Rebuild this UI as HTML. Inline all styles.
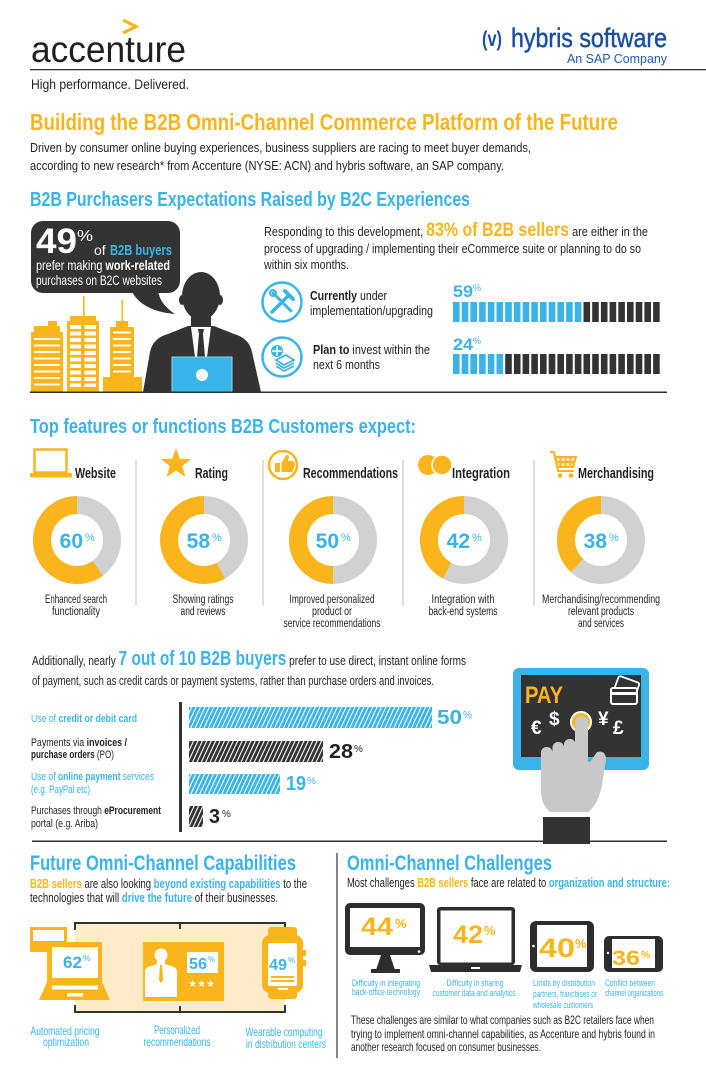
<!DOCTYPE html>
<html><head><meta charset="utf-8">
<style>
html,body{margin:0;padding:0;background:#fff;}
svg{display:block;}
text{font-family:"Liberation Sans Narrow","Liberation Sans",sans-serif;fill:#231f20;}
.b{font-weight:bold;}
.bl{fill:#3ab4e8;}
.or{fill:#f9b51b;}
.wh{fill:#fff;}
</style></head><body>
<svg width="706" height="1069" viewBox="0 0 706 1069" xmlns="http://www.w3.org/2000/svg">
<defs>
<pattern id="hb" width="4" height="4" patternUnits="userSpaceOnUse" patternTransform="rotate(25)"><rect width="4" height="4" fill="#3ab4e8"/><rect width="1.1" height="4" fill="#fff"/></pattern>
<pattern id="hd" width="4" height="4" patternUnits="userSpaceOnUse" patternTransform="rotate(25)"><rect width="4" height="4" fill="#333"/><rect width="1.1" height="4" fill="#fff"/></pattern>
<pattern id="st" width="700" height="6.5" patternUnits="userSpaceOnUse"><rect width="700" height="2" fill="#fff"/></pattern>
<pattern id="win" width="700" height="6.5" patternUnits="userSpaceOnUse"><rect y="0" width="700" height="4" fill="#fff"/></pattern>
</defs>

<!-- HEADER -->
<path d="M123,20 L136,26.5 L123,33" fill="none" stroke="#f9b51b" stroke-width="3.2"/>
<text x="31" y="62" font-size="37" textLength="155" lengthAdjust="spacingAndGlyphs">accenture</text>
<rect x="30" y="69" width="676" height="1.3" fill="#333"/>
<text x="31" y="89" font-size="14" textLength="158" lengthAdjust="spacingAndGlyphs">High performance. Delivered.</text>
<text x="482" y="46" font-size="21" class="b" style="fill:#1c4f9e" textLength="20" lengthAdjust="spacingAndGlyphs">(v)</text>
<text x="511" y="47" font-size="27" style="fill:#1c4f9e;stroke:#1c4f9e;stroke-width:0.5" textLength="156" lengthAdjust="spacingAndGlyphs">hybris software</text>
<text x="567" y="63" font-size="13" style="fill:#1e5bb0" textLength="100" lengthAdjust="spacingAndGlyphs">An SAP Company</text>

<text x="30" y="130" font-size="23" class="b or" textLength="588" lengthAdjust="spacingAndGlyphs">Building the B2B Omni-Channel Commerce Platform of the Future</text>
<text x="30" y="152" font-size="13" textLength="501" lengthAdjust="spacingAndGlyphs">Driven by consumer online buying experiences, business suppliers are racing to meet buyer demands,</text>
<text x="30" y="170" font-size="13" textLength="474" lengthAdjust="spacingAndGlyphs">according to new research* from Accenture (NYSE: ACN) and hybris software, an SAP company.</text>

<text x="30" y="206" font-size="20" class="b bl" textLength="440" lengthAdjust="spacingAndGlyphs">B2B Purchasers Expectations Raised by B2C Experiences</text>

<!-- speech bubble -->
<rect x="31" y="221" width="149" height="72" rx="12" fill="#333"/>
<path d="M131,290 C138,304 152,312 175,314 C163,306 159,298 158,290 Z" fill="#333"/>
<text x="36" y="253" font-size="35" class="b wh" textLength="41" lengthAdjust="spacingAndGlyphs">49</text>
<text x="77" y="241" font-size="16" class="wh" textLength="16" lengthAdjust="spacingAndGlyphs">%</text>
<text x="94" y="255" font-size="14" class="wh">of</text>
<text x="110" y="255" font-size="15" class="b bl" textLength="62" lengthAdjust="spacingAndGlyphs">B2B buyers</text>
<text x="36" y="270" font-size="14" class="wh" textLength="134" lengthAdjust="spacingAndGlyphs">prefer making <tspan class="b wh">work-related</tspan></text>
<text x="36" y="285" font-size="14" class="wh" textLength="126" lengthAdjust="spacingAndGlyphs">purchases on B2C websites</text>

<!-- buildings -->
<g fill="#f9b51b">
<rect x="48" y="321" width="9" height="6"/>
<rect x="34" y="326" width="26" height="6"/>
<rect x="31" y="332" width="32" height="60"/>
<rect x="83" y="296" width="1.6" height="20"/>
<rect x="70" y="316" width="26" height="5"/>
<rect x="67" y="321" width="32" height="71"/>
<rect x="121.5" y="300" width="1.6" height="21"/>
<rect x="116" y="321" width="12" height="6"/>
<rect x="110" y="327" width="24" height="50"/>
<rect x="103" y="377" width="39" height="15"/>
</g>
<rect x="34" y="335" width="26" height="52" fill="url(#st)"/>
<rect x="70" y="325" width="26" height="62" fill="url(#win)"/>
<rect x="81" y="324" width="3.5" height="64" fill="#f9b51b"/>
<rect x="113" y="331" width="18" height="44" fill="url(#st)"/>

<!-- person -->
<g fill="#333">
<ellipse cx="201" cy="296" rx="19" ry="24"/>
<ellipse cx="182" cy="300" rx="3" ry="5"/>
<ellipse cx="220" cy="300" rx="3" ry="5"/>
<rect x="191" y="305" width="20" height="24"/>
<path d="M143,392 L150,352 Q153,338 168,334 L188,326 L214,326 L234,334 Q249,338 252,352 L261,392 Z"/>
</g>
<polygon points="191,327 211,327 207,357 195,357" fill="#fff"/>
<polygon points="198,329 204,329 203,334 199,334" fill="#333"/>
<polygon points="199,334 203,334 205,357 197,357" fill="#333"/>
<rect x="172" y="357" width="60" height="35" fill="#3ab4e8" stroke="#8fd4f2" stroke-width="1"/>
<circle cx="202" cy="375" r="6" fill="#fff"/>
<rect x="30" y="391.5" width="637" height="1.5" fill="#333"/>

<!-- right text -->
<text x="264" y="236" font-size="13" textLength="384" lengthAdjust="spacingAndGlyphs">Responding to this development, <tspan class="b or" font-size="19">83% of B2B sellers</tspan> are either in the</text>
<text x="264" y="253" font-size="13" textLength="377" lengthAdjust="spacingAndGlyphs">process of upgrading / implementing their eCommerce suite or planning to do so</text>
<text x="264" y="269" font-size="13" textLength="85" lengthAdjust="spacingAndGlyphs">within six months.</text>

<!-- icons -->
<circle cx="282" cy="302" r="19.5" fill="none" stroke="#3ab4e8" stroke-width="2.5"/>
<g stroke="#3ab4e8" stroke-linecap="round">
<line x1="272" y1="312" x2="289" y2="295" stroke-width="3.5"/>
<line x1="285" y1="291" x2="293" y2="299" stroke-width="4"/>
<line x1="273" y1="293" x2="291" y2="311" stroke-width="3"/>
</g>
<circle cx="273" cy="293" r="3" fill="none" stroke="#3ab4e8" stroke-width="2"/>
<circle cx="282" cy="357" r="19.5" fill="none" stroke="#3ab4e8" stroke-width="2.5"/>
<circle cx="277" cy="351" r="6" fill="#3ab4e8"/>
<path d="M277,346 V356 M272,351 H282" stroke="#fff" stroke-width="1.5"/>
<g fill="none" stroke="#3ab4e8" stroke-width="1.8">
<path d="M276,360 L286,355 L294,360 L284,365 Z"/>
<path d="M276,363 L284,368 L294,363"/>
<path d="M276,366 L284,371 L294,366"/>
</g>
<text x="310" y="300" font-size="13" textLength="77" lengthAdjust="spacingAndGlyphs"><tspan class="b">Currently</tspan> under</text>
<text x="310" y="315" font-size="13" textLength="123" lengthAdjust="spacingAndGlyphs">implementation/upgrading</text>
<text x="313" y="354" font-size="13" textLength="117" lengthAdjust="spacingAndGlyphs"><tspan class="b">Plan to</tspan> invest within the</text>
<text x="313" y="369" font-size="13" textLength="67" lengthAdjust="spacingAndGlyphs">next 6 months</text>

<!-- segment bars -->
<text x="453" y="297" font-size="17" class="b bl" textLength="20" lengthAdjust="spacingAndGlyphs">59</text>
<text x="473" y="291" font-size="9" class="bl">%</text>
<text x="453" y="350" font-size="17" class="b bl" textLength="20" lengthAdjust="spacingAndGlyphs">24</text>
<text x="473" y="344" font-size="9" class="bl">%</text>
<g fill="#3ab4e8">
<rect x="453" y="302" width="6.6" height="20"/><rect x="461.7" y="302" width="6.6" height="20"/><rect x="470.4" y="302" width="6.6" height="20"/><rect x="479.1" y="302" width="6.6" height="20"/><rect x="487.8" y="302" width="6.6" height="20"/><rect x="496.5" y="302" width="6.6" height="20"/><rect x="505.2" y="302" width="6.6" height="20"/><rect x="513.9" y="302" width="6.6" height="20"/><rect x="522.6" y="302" width="6.6" height="20"/><rect x="531.3" y="302" width="6.6" height="20"/><rect x="540" y="302" width="6.6" height="20"/><rect x="548.7" y="302" width="6.6" height="20"/><rect x="557.4" y="302" width="6.6" height="20"/><rect x="566.1" y="302" width="6.6" height="20"/><rect x="574.8" y="302" width="6.6" height="20"/>
<rect x="453" y="354" width="6.6" height="20"/><rect x="461.7" y="354" width="6.6" height="20"/><rect x="470.4" y="354" width="6.6" height="20"/><rect x="479.1" y="354" width="6.6" height="20"/><rect x="487.8" y="354" width="6.6" height="20"/><rect x="496.5" y="354" width="6.6" height="20"/>
</g>
<g fill="#333">
<rect x="583.5" y="302" width="6.6" height="20"/><rect x="592.2" y="302" width="6.6" height="20"/><rect x="600.9" y="302" width="6.6" height="20"/><rect x="609.6" y="302" width="6.6" height="20"/><rect x="618.3" y="302" width="6.6" height="20"/><rect x="627" y="302" width="6.6" height="20"/><rect x="635.7" y="302" width="6.6" height="20"/><rect x="644.4" y="302" width="6.6" height="20"/><rect x="653.1" y="302" width="6.6" height="20"/>
<rect x="505.2" y="354" width="6.6" height="20"/><rect x="513.9" y="354" width="6.6" height="20"/><rect x="522.6" y="354" width="6.6" height="20"/><rect x="531.3" y="354" width="6.6" height="20"/><rect x="540" y="354" width="6.6" height="20"/><rect x="548.7" y="354" width="6.6" height="20"/><rect x="557.4" y="354" width="6.6" height="20"/><rect x="566.1" y="354" width="6.6" height="20"/><rect x="574.8" y="354" width="6.6" height="20"/><rect x="583.5" y="354" width="6.6" height="20"/><rect x="592.2" y="354" width="6.6" height="20"/><rect x="600.9" y="354" width="6.6" height="20"/><rect x="609.6" y="354" width="6.6" height="20"/><rect x="618.3" y="354" width="6.6" height="20"/><rect x="627" y="354" width="6.6" height="20"/><rect x="635.7" y="354" width="6.6" height="20"/><rect x="644.4" y="354" width="6.6" height="20"/><rect x="653.1" y="354" width="6.6" height="20"/>
</g>

<!-- TOP FEATURES -->
<text x="30" y="433" font-size="20" class="b bl" textLength="386" lengthAdjust="spacingAndGlyphs">Top features or functions B2B Customers expect:</text>

<!-- icons -->
<rect x="34.5" y="449.5" width="32" height="23" fill="none" stroke="#f9b51b" stroke-width="2.5"/>
<rect x="30" y="473" width="42" height="4.5" rx="1" fill="#f9b51b"/>
<text x="75" y="478" font-size="14.5" class="b" textLength="41" lengthAdjust="spacingAndGlyphs">Website</text>

<polygon points="176,448 179.8,458.7 191.2,459.1 182.2,466 185.4,476.9 176,470.5 166.6,476.9 169.8,466 160.8,459.1 172.2,458.7" fill="#f9b51b"/>
<text x="195" y="478" font-size="14.5" class="b" textLength="33" lengthAdjust="spacingAndGlyphs">Rating</text>

<circle cx="283" cy="465" r="14" fill="none" stroke="#f9b51b" stroke-width="2.5"/>
<rect x="275" y="463" width="5" height="9" fill="#f9b51b"/>
<path d="M281.5,472 L281.5,463 L285.5,456 Q288,453 289,457 L288,461 L293,461 Q295.5,462 294.5,466 L292.5,472 Z" fill="#f9b51b"/>
<text x="303" y="478" font-size="14.5" class="b" textLength="95" lengthAdjust="spacingAndGlyphs">Recommendations</text>

<circle cx="428" cy="465" r="10" fill="#f9b51b"/>
<circle cx="442" cy="465" r="10" fill="#f9b51b" stroke="#fff" stroke-width="1.5"/>
<text x="452" y="478" font-size="14.5" class="b" textLength="58" lengthAdjust="spacingAndGlyphs">Integration</text>

<g fill="none" stroke="#f9b51b" stroke-width="2">
<path d="M550,452 H554 L558,471 H574"/>
<path d="M555.5,457 H576 L573,467 H557.5 Z" fill="#f9b51b" fill-opacity="0.25"/>
<path d="M560.5,457 V467 M565.5,457 V467 M570.5,457 V467 M556.5,462 H574.5"/>
</g>
<circle cx="560" cy="475.5" r="2.3" fill="#f9b51b"/>
<circle cx="571" cy="475.5" r="2.3" fill="#f9b51b"/>
<text x="578" y="478" font-size="14.5" class="b" textLength="76" lengthAdjust="spacingAndGlyphs">Merchandising</text>

<!-- dividers -->
<g stroke="#c8c8c8" stroke-width="1.2">
<line x1="136" y1="460" x2="136" y2="606"/>
<line x1="263" y1="460" x2="263" y2="606"/>
<line x1="403" y1="460" x2="403" y2="606"/>
<line x1="534" y1="460" x2="534" y2="606"/>
</g>

<!-- donuts -->
<g fill="none" stroke-width="18">
<circle cx="77" cy="540" r="35" stroke="#d1d1d1"/>
<path d="M77,505 A35,35 0 1 0 97.6,568.3" stroke="#f9b51b"/>
<circle cx="204" cy="540" r="35" stroke="#d1d1d1"/>
<path d="M204,505 A35,35 0 1 0 220.9,570.7" stroke="#f9b51b"/>
<circle cx="333" cy="540" r="35" stroke="#d1d1d1"/>
<path d="M333,505 A35,35 0 1 0 333,575" stroke="#f9b51b"/>
<circle cx="464" cy="540" r="35" stroke="#d1d1d1"/>
<path d="M464,505 A35,35 0 0 0 447.1,570.7" stroke="#f9b51b"/>
<circle cx="601" cy="540" r="35" stroke="#d1d1d1"/>
<path d="M601,505 A35,35 0 0 0 577,565.5" stroke="#f9b51b"/>
</g>
<g font-size="21" class="b bl">
<text x="83" y="548" text-anchor="end" class="b bl">60</text>
<text x="210" y="548" text-anchor="end" class="b bl">58</text>
<text x="339" y="548" text-anchor="end" class="b bl">50</text>
<text x="470" y="548" text-anchor="end" class="b bl">42</text>
<text x="607" y="548" text-anchor="end" class="b bl">38</text>
</g>
<g font-size="11">
<text x="85" y="541" class="bl">%</text>
<text x="212" y="541" class="bl">%</text>
<text x="341" y="541" class="bl">%</text>
<text x="472" y="541" class="bl">%</text>
<text x="609" y="541" class="bl">%</text>
</g>
<g font-size="11.5" text-anchor="middle">
<text x="76" y="603" textLength="62" lengthAdjust="spacingAndGlyphs">Enhanced search</text>
<text x="76" y="615" textLength="48" lengthAdjust="spacingAndGlyphs">functionality</text>
<text x="203" y="603" textLength="61" lengthAdjust="spacingAndGlyphs">Showing ratings</text>
<text x="203" y="615" textLength="45" lengthAdjust="spacingAndGlyphs">and reviews</text>
<text x="332" y="603" textLength="85" lengthAdjust="spacingAndGlyphs">Improved personalized</text>
<text x="332" y="615" textLength="40" lengthAdjust="spacingAndGlyphs">product or</text>
<text x="332" y="627" textLength="97" lengthAdjust="spacingAndGlyphs">service recommendations</text>
<text x="463" y="603" textLength="63" lengthAdjust="spacingAndGlyphs">Integration with</text>
<text x="463" y="615" textLength="69" lengthAdjust="spacingAndGlyphs">back-end systems</text>
<text x="601" y="603" textLength="118" lengthAdjust="spacingAndGlyphs">Merchandising/recommending</text>
<text x="601" y="615" textLength="66" lengthAdjust="spacingAndGlyphs">relevant products</text>
<text x="601" y="627" textLength="46" lengthAdjust="spacingAndGlyphs">and services</text>
</g>

<!-- PAYMENT -->
<text x="32" y="665" font-size="13" textLength="434" lengthAdjust="spacingAndGlyphs">Additionally, nearly <tspan class="b bl" font-size="20">7 out of 10 B2B buyers</tspan> prefer to use direct, instant online forms</text>
<text x="32" y="685" font-size="13" textLength="402" lengthAdjust="spacingAndGlyphs">of payment, such as credit cards or payment systems, rather than purchase orders and invoices.</text>

<rect x="179" y="702" width="3" height="130" fill="#333"/>
<rect x="189" y="707" width="243" height="21" fill="url(#hb)"/>
<rect x="189" y="741" width="134" height="21" fill="url(#hd)"/>
<rect x="189" y="774" width="91" height="20" fill="url(#hb)"/>
<rect x="189" y="806" width="14" height="21" fill="url(#hd)"/>

<text x="437" y="724" font-size="20" class="b bl" textLength="25" lengthAdjust="spacingAndGlyphs">50</text>
<text x="463" y="718" font-size="10" class="bl">%</text>
<text x="329" y="758" font-size="20" class="b" textLength="24" lengthAdjust="spacingAndGlyphs">28</text>
<text x="354" y="752" font-size="10">%</text>
<text x="286" y="790" font-size="20" class="b bl" textLength="20" lengthAdjust="spacingAndGlyphs">19</text>
<text x="307" y="784" font-size="10" class="bl">%</text>
<text x="209" y="823" font-size="20" class="b" textLength="11" lengthAdjust="spacingAndGlyphs">3</text>
<text x="222" y="817" font-size="10">%</text>

<g font-size="11">
<text x="31" y="722" class="bl" textLength="106" lengthAdjust="spacingAndGlyphs">Use of <tspan class="b bl">credit or debit card</tspan></text>
<text x="31" y="746" textLength="96" lengthAdjust="spacingAndGlyphs">Payments via <tspan class="b">invoices /</tspan></text>
<text x="31" y="758" textLength="83" lengthAdjust="spacingAndGlyphs"><tspan class="b">purchase orders</tspan> (PO)</text>
<text x="31" y="780" class="bl" textLength="123" lengthAdjust="spacingAndGlyphs">Use of <tspan class="b bl">online payment</tspan> services</text>
<text x="31" y="793" class="bl" textLength="59" lengthAdjust="spacingAndGlyphs">(e.g. PayPal etc)</text>
<text x="31" y="814" textLength="130" lengthAdjust="spacingAndGlyphs">Purchases through <tspan class="b">eProcurement</tspan></text>
<text x="31" y="827" textLength="67" lengthAdjust="spacingAndGlyphs">portal  (e.g. Ariba)</text>
</g>

<!-- PAY tablet -->
<rect x="513" y="668" width="136" height="102" rx="6" fill="#3ab4e8"/>
<rect x="521" y="675" width="120" height="82" fill="#333"/>
<text x="525" y="703" font-size="24" class="b or" textLength="38" lengthAdjust="spacingAndGlyphs">PAY</text>
<rect x="616" y="679" width="22" height="14" rx="2" fill="none" stroke="#fff" stroke-width="1.8" transform="rotate(20 627 686)"/>
<rect x="611" y="688" width="26" height="16" rx="2" fill="#333" stroke="#fff" stroke-width="2"/>
<rect x="611" y="692" width="26" height="3" fill="#fff"/>
<text x="531" y="734" font-size="19" class="b wh">€</text>
<text x="549" y="725" font-size="19" class="b wh">$</text>
<text x="598" y="725" font-size="19" class="b wh">¥</text>
<text x="613" y="734" font-size="19" class="b wh">£</text>
<circle cx="581" cy="722" r="10" fill="#f9b51b" stroke="#fff" stroke-width="2"/>
<g fill="#c8c8c8">
<rect x="575" y="716" width="13" height="60" rx="6.5"/>
<rect x="541" y="747" width="11.5" height="35" rx="5.5"/>
<rect x="552.5" y="742" width="11.5" height="38" rx="5.5"/>
<rect x="564" y="739" width="11.5" height="40" rx="5.5"/>
<path d="M541,762 H590 L597,752 Q606,750 606,760 L602,785 Q598,805 588,812 H550 Q541,805 541,790 Z"/>
</g>
<rect x="543" y="817" width="47" height="27" fill="#333"/>

<!-- divider -->
<rect x="32" y="840.5" width="635" height="1.5" fill="#333"/>
<rect x="543" y="838" width="47" height="6" fill="#333"/>

<!-- FUTURE -->
<text x="30" y="870" font-size="21" class="b bl" textLength="266" lengthAdjust="spacingAndGlyphs">Future Omni-Channel Capabilities</text>
<line x1="337" y1="853" x2="337" y2="1058" stroke="#333" stroke-width="1.2"/>
<text x="30" y="888" font-size="12.5" textLength="277" lengthAdjust="spacingAndGlyphs"><tspan class="b or">B2B sellers</tspan> are also looking <tspan class="b bl">beyond existing capabilities</tspan> to the</text>
<text x="30" y="902" font-size="12.5" textLength="248" lengthAdjust="spacingAndGlyphs">technologies that will <tspan class="b bl">drive the future</tspan> of their businesses.</text>

<rect x="75" y="923" width="210" height="89" fill="#fcecc9"/>
<g fill="none" stroke="#333" stroke-width="2">
<path d="M75,930 V923 H285 V930 M180,923 V929"/>
<path d="M75,1005 V1012 H285 V1005 M180,1012 V1006"/>
</g>

<!-- laptop left -->
<rect x="30" y="927" width="37" height="25" fill="#f9b51b"/>
<rect x="33" y="930" width="31" height="11" fill="#fff"/>
<rect x="47" y="942" width="55" height="40" fill="#f9b51b"/>
<rect x="52" y="947" width="46" height="31" fill="#fff"/>
<path d="M47,982 H102 L110,1000 H39 Z" fill="#f9b51b"/>
<rect x="52" y="985.5" width="46" height="4" fill="#fff"/>
<rect x="67" y="993" width="16" height="3.5" fill="#fff"/>
<text x="63" y="968" font-size="17" class="b bl" textLength="19" lengthAdjust="spacingAndGlyphs">62</text>
<text x="83" y="961" font-size="8.5" class="bl">%</text>

<!-- person card -->
<rect x="143" y="942" width="81" height="59" fill="#f9b51b"/>
<circle cx="161" cy="955" r="6.5" fill="#fff"/>
<path d="M157,960 H165 V964 L174,967 Q177,968 177,972 V997 H145 V972 Q145,968 148,967 L157,964 Z" fill="#fff"/>
<path d="M160,965 H162 L163,980 L161,983 L159,980 Z" fill="#f9b51b"/>
<rect x="187" y="952" width="31" height="21" fill="#fff"/>
<text x="189" y="969" font-size="16" class="b bl" textLength="18" lengthAdjust="spacingAndGlyphs">56</text>
<text x="208" y="962" font-size="8" class="bl">%</text>
<text x="188" y="987" font-size="10" class="wh" textLength="27" lengthAdjust="spacingAndGlyphs">★★★</text>

<!-- watch -->
<rect x="268" y="927" width="29" height="12" rx="3" fill="#f9b51b"/>
<rect x="268" y="988" width="29" height="11" rx="3" fill="#f9b51b"/>
<rect x="262" y="935" width="41" height="58" rx="8" fill="#f9b51b"/>
<rect x="303" y="950" width="3" height="6" fill="#f9b51b"/>
<rect x="303" y="960" width="3" height="6" fill="#f9b51b"/>
<rect x="268" y="943" width="29" height="43" rx="2" fill="#fff"/>
<rect x="271" y="976" width="23" height="2" fill="#f9b51b"/>
<rect x="271" y="980" width="23" height="2" fill="#f9b51b"/>
<rect x="278" y="988" width="10" height="1.8" fill="#fff"/>
<text x="269" y="970" font-size="16" class="b bl" textLength="18" lengthAdjust="spacingAndGlyphs">49</text>
<text x="288" y="963" font-size="8" class="bl">%</text>

<g font-size="12" text-anchor="middle">
<text x="65" y="1035" class="bl" textLength="69" lengthAdjust="spacingAndGlyphs">Automated pricing</text>
<text x="66" y="1046" class="bl" textLength="46" lengthAdjust="spacingAndGlyphs">optimization</text>
<text x="177" y="1034" class="bl" textLength="46" lengthAdjust="spacingAndGlyphs">Personalized</text>
<text x="177" y="1046" class="bl" textLength="67" lengthAdjust="spacingAndGlyphs">recommendations</text>
<text x="284" y="1036" class="bl" textLength="77" lengthAdjust="spacingAndGlyphs">Wearable computing</text>
<text x="286" y="1048" class="bl" textLength="80" lengthAdjust="spacingAndGlyphs">in distribution centers</text>
</g>

<!-- CHALLENGES -->
<text x="347" y="870" font-size="21" class="b bl" textLength="205" lengthAdjust="spacingAndGlyphs">Omni-Channel Challenges</text>
<text x="347" y="887" font-size="12.5" textLength="323" lengthAdjust="spacingAndGlyphs">Most challenges <tspan class="b or">B2B sellers</tspan> face are related to <tspan class="b bl">organization and structure:</tspan></text>

<!-- monitor -->
<rect x="345" y="903" width="80" height="52" rx="5" fill="#2d2d2d"/>
<rect x="350" y="908" width="70" height="39" fill="#fff"/>
<circle cx="419" cy="951.5" r="1.3" fill="#fff"/>
<path d="M381,955 H390 L395,970 H376 Z" fill="#2d2d2d"/>
<rect x="371" y="969" width="29" height="4" fill="#2d2d2d"/>
<text x="361" y="935" font-size="25" class="b or" textLength="32" lengthAdjust="spacingAndGlyphs">44</text>
<text x="395" y="928" font-size="13" class="b or">%</text>

<!-- laptop -->
<rect x="437" y="907" width="78" height="58" rx="3" fill="#2d2d2d"/>
<rect x="440.5" y="910.5" width="71" height="52" fill="#fff"/>
<path d="M429,965 H522 L520,972 H431 Z" fill="#2d2d2d"/>
<rect x="471" y="967" width="9" height="2" fill="#fff"/>
<text x="453" y="943" font-size="25" class="b or" textLength="30" lengthAdjust="spacingAndGlyphs">42</text>
<text x="484" y="935" font-size="13" class="b or">%</text>

<!-- tablet -->
<rect x="530" y="921" width="64" height="51" rx="6" fill="#2d2d2d"/>
<rect x="537" y="925" width="50" height="42" fill="#fff"/>
<circle cx="533.5" cy="946" r="1.3" fill="#fff"/>
<text x="539" y="957" font-size="27" class="b or" textLength="36" lengthAdjust="spacingAndGlyphs">40</text>
<text x="575" y="948" font-size="13" class="b or">%</text>

<!-- small tablet -->
<rect x="604" y="936" width="59" height="36" rx="5" fill="#2d2d2d"/>
<rect x="612" y="939" width="43" height="29" fill="#fff"/>
<circle cx="608" cy="953" r="1.2" fill="#fff"/>
<text x="612" y="965" font-size="21" class="b or" textLength="28" lengthAdjust="spacingAndGlyphs">36</text>
<text x="641" y="958" font-size="10.5" class="b or">%</text>

<g font-size="9.5">
<text x="386" y="986" text-anchor="middle" class="bl" textLength="68" lengthAdjust="spacingAndGlyphs">Difficulty in integrating</text>
<text x="386" y="995" text-anchor="middle" class="bl" textLength="68" lengthAdjust="spacingAndGlyphs">back-office technology</text>
<text x="475" y="986" text-anchor="middle" class="bl" textLength="57" lengthAdjust="spacingAndGlyphs">Difficulty in sharing</text>
<text x="474" y="996" text-anchor="middle" class="bl" textLength="83" lengthAdjust="spacingAndGlyphs">customer data and analytics</text>
<text x="533" y="986" class="bl" textLength="62" lengthAdjust="spacingAndGlyphs">Limits by distribution</text>
<text x="533" y="997" class="bl" textLength="64" lengthAdjust="spacingAndGlyphs">partners, franchises or</text>
<text x="533" y="1008" class="bl" textLength="60" lengthAdjust="spacingAndGlyphs">wholesale customers</text>
<text x="605" y="986" class="bl" textLength="50" lengthAdjust="spacingAndGlyphs">Conflict between</text>
<text x="605" y="996" class="bl" textLength="58" lengthAdjust="spacingAndGlyphs">channel organizations</text>
</g>

<g font-size="12">
<text x="351" y="1024" textLength="303" lengthAdjust="spacingAndGlyphs">These challenges are similar to what companies such as B2C retailers face when</text>
<text x="351" y="1038" textLength="304" lengthAdjust="spacingAndGlyphs">trying to implement omni-channel capabilities, as Accenture and hybris found in</text>
<text x="351" y="1051" textLength="190" lengthAdjust="spacingAndGlyphs">another research focused on consumer businesses.</text>
</g>
</svg>
</body></html>
